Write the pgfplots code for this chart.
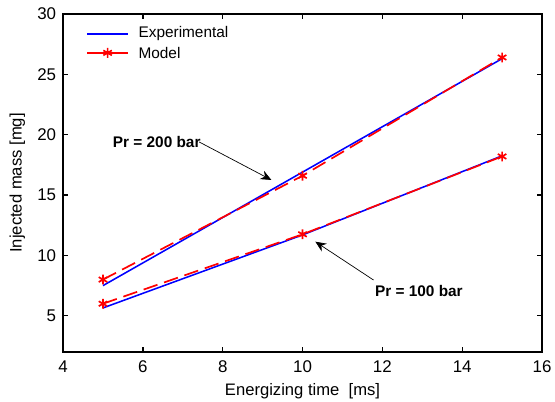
\documentclass[border=0pt]{standalone}
\usepackage{fontspec}
\setmainfont{Liberation Sans}
\usepackage{pgfplots}
\pgfplotsset{compat=1.18}
\usetikzlibrary{arrows.meta}
\begin{document}
\begin{tikzpicture}
\begin{axis}[
  scale only axis,
  width=311.3pt, height=219.7pt,
  xmin=4, xmax=16, ymin=2, ymax=30,
  xtick={4,6,...,16}, ytick={5,10,...,30},
  axis line style={line width=1pt, black},
  major tick style={black, line width=0.8pt},
  major tick length=3.5pt,
  tick align=inside,
  /pgf/number format/assume math mode=true,
  tick label style={font=\fontsize{11}{13}\selectfont},
  label style={font=\fontsize{10.8}{13}\selectfont},
  xlabel={Energizing time\ \ [ms]},
  ylabel={Injected mass [mg]},
  xticklabel style={yshift=-2pt},
  yticklabel style={xshift=-1pt},
  ylabel style={xshift=0pt, yshift=1pt},
]
% Experimental, Pr = 200 bar
\addplot[blue, line width=1pt] coordinates {(5,7.5) (10,16.9) (15,26.3)};
% Experimental, Pr = 100 bar
\addplot[blue, line width=1pt] coordinates {(5,5.65) (10,11.7) (15,18.25)};
% Model, Pr = 200 bar
\addplot[red, line width=1.1pt, dash pattern=on 9.5pt off 4.5pt, mark=asterisk, mark size=3.2pt, mark options={solid}] coordinates {(5,8.0) (10,16.6) (15,26.4)};
% Model, Pr = 100 bar
\addplot[red, line width=1.1pt, dash pattern=on 9.5pt off 4.5pt, mark=asterisk, mark size=3.2pt, mark options={solid}] coordinates {(5,6.0) (10,11.75) (15,18.2)};

% legend (MATLAB style, no box)
\draw[blue, line width=1pt] (axis description cs:0.050,0.941) -- (axis description cs:0.136,0.941);
\node[anchor=west, inner sep=0pt, font=\fontsize{10}{12}\selectfont] at (axis description cs:0.157,0.941) {Experimental};
\draw[red, line width=1pt] (axis description cs:0.050,0.885) -- (axis description cs:0.136,0.885);
\draw[red, line width=1.1pt] plot[mark=asterisk, mark size=3.2pt] coordinates {(axis description cs:0.093,0.885)};
\node[anchor=west, inner sep=0pt, font=\fontsize{10}{12}\selectfont] at (axis description cs:0.157,0.885) {Model};

\node[anchor=west, font=\fontsize{10}{12}\selectfont\bfseries, inner sep=0pt] at (axis cs:5.24,19.37) {Pr = 200 bar};
\draw[-{Stealth[length=7pt,width=6pt]}, line width=0.45pt] (axis cs:7.41,19.4) -- (axis cs:9.22,16.25);
\node[anchor=west, font=\fontsize{10}{12}\selectfont\bfseries, inner sep=0pt] at (axis cs:11.81,7.08) {Pr = 100 bar};
\draw[-{Stealth[length=7pt,width=6pt]}, line width=0.45pt] (axis cs:11.78,7.96) -- (axis cs:10.32,11.14);
\end{axis}
\pgfresetboundingbox
\path ([shift={(-41pt,-32.5pt)}]current axis.south west) rectangle ([shift={(8.45pt,9.1pt)}]current axis.north east);
\end{tikzpicture}
\end{document}
